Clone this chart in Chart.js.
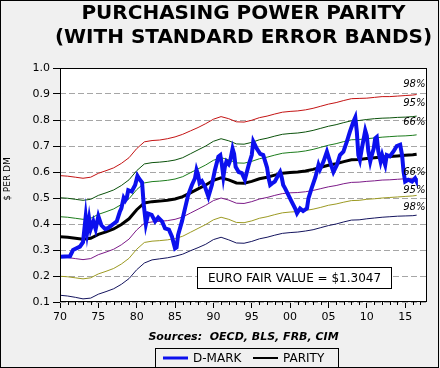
<!DOCTYPE html>
<html>
<head>
<meta charset="utf-8">
<script src="https://cdn.jsdelivr.net/npm/chart.js@4.4.1/dist/chart.umd.min.js"></script>
<style>
  html, body { margin: 0; padding: 0; background: #f0f0f0; }
  #wrap { width: 440px; height: 368px; position: relative; }
</style>
</head>
<body>
<div id="wrap"><canvas id="ppp"></canvas></div>
<script>
// annual readings, 1970 .. 2016 plus mid 2016
var bandYears = [1970, 1971, 1972, 1973, 1974, 1975, 1976, 1977, 1978, 1979,
  1980, 1981, 1982, 1983, 1984, 1985, 1986, 1987, 1988, 1989,
  1990, 1991, 1992, 1993, 1994, 1995, 1996, 1997, 1998, 1999,
  2000, 2001, 2002, 2003, 2004, 2005, 2006, 2007, 2008, 2009,
  2010, 2011, 2012, 2013, 2014, 2015, 2016, 2016.5];

var parity = [.351, .349, .345, .341, .345, .360, .370, .381, .398, .420,
  .455, .481, .486, .488, .491, .496, .505, .520, .535, .550,
  .568, .578, .570, .558, .557, .564, .574, .580, .588, .595,
  .598, .600, .604, .610, .618, .626, .632, .640, .647, .648,
  .652, .655, .658, .660, .662, .664, .666, .668];

var upper98 = [.586, .584, .580, .576, .580, .595, .605, .616, .633, .655,
  .690, .716, .721, .723, .728, .735, .745, .758, .771, .786,
  .803, .813, .805, .793, .792, .799, .809, .815, .823, .830,
  .833, .835, .839, .845, .853, .861, .867, .875, .882, .883,
  .884, .887, .890, .890, .892, .894, .896, .898];

var upper95 = [.501, .499, .495, .491, .495, .510, .520, .531, .548, .570,
  .605, .631, .636, .638, .641, .646, .655, .670, .685, .700,
  .718, .728, .720, .708, .707, .714, .724, .730, .738, .745,
  .748, .750, .754, .760, .768, .776, .782, .790, .797, .798,
  .802, .805, .807, .808, .810, .811, .813, .815];

var upper66 = [.428, .426, .422, .418, .422, .437, .447, .458, .475, .497,
  .532, .558, .563, .565, .568, .573, .582, .597, .612, .627,
  .645, .655, .647, .635, .634, .641, .651, .657, .665, .672,
  .675, .677, .681, .687, .695, .703, .709, .717, .724, .725,
  .728, .731, .734, .736, .738, .739, .741, .743];

var lower66 = [.273, .271, .267, .263, .267, .282, .292, .303, .320, .342,
  .377, .403, .408, .410, .413, .418, .427, .442, .457, .472,
  .490, .500, .492, .480, .479, .486, .496, .502, .510, .517,
  .520, .521, .524, .529, .536, .543, .548, .555, .560, .561,
  .564, .566, .569, .570, .572, .574, .576, .578];

var lower95 = [.199, .197, .193, .189, .193, .208, .218, .229, .246, .268,
  .303, .329, .334, .336, .339, .344, .353, .368, .383, .398,
  .416, .426, .418, .406, .405, .412, .422, .428, .436, .443,
  .446, .448, .452, .457, .464, .472, .477, .484, .490, .491,
  .495, .497, .500, .502, .504, .506, .508, .510];

var lower98 = [.126, .123, .118, .112, .115, .130, .140, .151, .168, .190,
  .224, .250, .262, .266, .270, .276, .284, .297, .309, .322,
  .340, .349, .339, .327, .326, .333, .343, .349, .357, .364,
  .367, .369, .373, .378, .386, .394, .400, .408, .415, .416,
  .420, .423, .426, .428, .430, .431, .432, .434];

// D-mark in $ per DM
var dmYears = [1970.0, 1971.3, 1971.7, 1972.6, 1973.0, 1973.35, 1973.55, 1973.8, 1974.0, 1974.35,
  1974.65, 1975.0, 1975.4, 1975.9, 1976.3, 1976.95, 1977.4, 1977.8, 1978.0, 1978.3,
  1978.5, 1978.7, 1978.9, 1979.35, 1979.8, 1980.1, 1980.3, 1980.7, 1980.9, 1981.2,
  1981.5, 1981.95, 1982.4, 1982.8, 1983.3, 1983.7, 1984.2, 1984.6, 1985.0, 1985.2,
  1985.4, 1985.9, 1986.3, 1986.7, 1987.2, 1987.6, 1987.8, 1988.0, 1988.2, 1988.5,
  1988.9, 1989.2, 1989.35, 1989.6, 1989.8, 1990.2, 1990.65, 1990.9, 1991.1, 1991.3,
  1991.5, 1991.7, 1992.0, 1992.2, 1992.5, 1992.7, 1992.9, 1993.3, 1993.7, 1994.1,
  1994.6, 1995.0, 1995.2, 1995.4, 1995.65, 1996.1, 1996.5, 1996.7, 1997.0, 1997.2,
  1997.4, 1997.65, 1998.0, 1998.5, 1998.7, 1998.9, 1999.1, 1999.35, 1999.8, 2000.2,
  2000.65, 2000.9, 2001.3, 2001.7, 2002.2, 2002.4, 2002.8, 2003.3, 2003.7, 2003.9,
  2004.35, 2004.8, 2005.2, 2005.65, 2006.1, 2006.5, 2006.95, 2007.4, 2007.8, 2008.25,
  2008.5, 2008.7, 2008.9, 2009.1, 2009.35, 2009.8, 2010.0, 2010.2, 2010.45, 2010.65,
  2010.9, 2011.1, 2011.3, 2011.5, 2011.8, 2012.0, 2012.2, 2012.4, 2012.6, 2013.0,
  2013.5, 2013.9, 2014.35, 2014.6, 2014.8, 2015.0, 2015.4, 2015.9, 2016.3, 2016.4];

var dmark = [.274, .276, .300, .313, .330, .428, .370, .420, .380, .410,
  .380, .430, .395, .380, .385, .400, .410, .447, .460, .500,
  .490, .500, .530, .525, .550, .585, .575, .560, .480, .400,
  .440, .435, .410, .425, .410, .383, .378, .351, .306, .310,
  .358, .410, .460, .510, .550, .576, .608, .590, .557, .565,
  .543, .518, .505, .530, .550, .608, .659, .665, .630, .582,
  .620, .640, .630, .645, .690, .670, .620, .600, .596, .570,
  .627, .665, .717, .705, .690, .670, .665, .646, .617, .576,
  .550, .556, .563, .590, .600, .580, .550, .537, .510, .486,
  .460, .441, .460, .450, .460, .499, .537, .580, .627, .610,
  .640, .678, .640, .600, .627, .665, .678, .717, .755, .793,
  .810, .755, .665, .646, .690, .760, .740, .680, .640, .665,
  .690, .730, .735, .680, .640, .665, .645, .627, .665, .660,
  .680, .700, .705, .665, .600, .563, .570, .563, .576, .570];

var labelYears = [1970, 1975, 1980, 1985, 1990, 1995, 2000, 2005, 2010, 2015];
var labelText = ['70', '75', '80', '85', '90', '95', '00', '05', '10', '15'];
var bandTags = ['98%', '95%', '66%', '66%', '95%', '98%'];
var fairValue = 1.3047;

function pts(xs, ys) {
  return xs.map(function (x, i) { return { x: x, y: ys[i] }; });
}

function band(label, values, color) {
  return {
    label: label,
    data: pts(bandYears, values),
    borderColor: color,
    borderWidth: 1,
    pointRadius: 0,
    tension: 0
  };
}

Chart.defaults.font.family = '"DejaVu Sans", sans-serif';
Chart.defaults.color = '#000';

var decor = {
  id: 'decor',
  beforeDraw: function (chart) {
    var ctx = chart.ctx, a = chart.chartArea;
    ctx.save();
    ctx.fillStyle = '#f0f0f0';
    ctx.fillRect(0, 0, chart.width, chart.height);
    ctx.fillStyle = '#ffffff';
    ctx.fillRect(a.left, a.top, a.right - a.left, a.bottom - a.top);
    ctx.restore();
  },
  afterDatasetsDraw: function (chart) {
    var ctx = chart.ctx, xs = chart.scales.x, ys = chart.scales.y;
    // fair value box
    var l = Math.round(xs.getPixelForValue(1987.8)) + 0.5;
    var r = Math.round(xs.getPixelForValue(2013.2)) + 0.5;
    var t = Math.round(ys.getPixelForValue(0.236)) + 0.5;
    var b = Math.round(ys.getPixelForValue(0.155)) + 0.5;
    ctx.save();
    ctx.fillStyle = '#fff';
    ctx.fillRect(l, t, r - l, b - t);
    ctx.strokeStyle = '#000';
    ctx.lineWidth = 1;
    ctx.strokeRect(l, t, r - l, b - t);
    ctx.font = '12px "DejaVu Sans"';
    ctx.fillStyle = '#000';
    ctx.textAlign = 'center';
    ctx.textBaseline = 'middle';
    ctx.fillText('EURO FAIR VALUE = $' + fairValue.toFixed(4), (l + r) / 2, (t + b) / 2 + 1);

    // band tags
    var tagY = [0.935, 0.862, 0.792, 0.600, 0.531, 0.462];
    ctx.font = 'italic 10px "DejaVu Sans"';
    bandTags.forEach(function (s, i) {
      ctx.fillText(s, xs.getPixelForValue(2016.2), ys.getPixelForValue(tagY[i]));
    });
    ctx.restore();
  },
  afterDraw: function (chart) {
    var ctx = chart.ctx, a = chart.chartArea, xs = chart.scales.x;
    ctx.save();
    ctx.strokeStyle = '#000';
    ctx.lineWidth = 1;
    // plot frame
    ctx.strokeRect(a.left + 0.5, a.top + 0.5, a.right - a.left - 1, a.bottom - a.top - 1);
    // minor year ticks
    ctx.beginPath();
    for (var yr = 1970; yr <= 2017; yr++) {
      if (yr % 5 === 0) continue;
      var px = Math.round(xs.getPixelForValue(yr)) + 0.5;
      ctx.moveTo(px, a.bottom);
      ctx.lineTo(px, a.bottom + 3);
    }
    ctx.stroke();
    // outer frame
    ctx.strokeRect(0.5, 0.5, 438, 367);

    // title
    var cx = (a.left + a.right) / 2;
    ctx.fillStyle = '#000';
    ctx.textAlign = 'center';
    ctx.textBaseline = 'alphabetic';
    ctx.font = 'bold 20px "DejaVu Sans"';
    ctx.fillText('PURCHASING POWER PARITY', cx, 19);
    ctx.fillText('(WITH STANDARD ERROR BANDS)', cx, 43);

    // sources
    ctx.font = 'bold italic 11px "DejaVu Sans"';
    ctx.fillText('Sources:  OECD, BLS, FRB, CIM', cx, 340);

    // y title
    ctx.save();
    ctx.translate(8, 179);
    ctx.rotate(-Math.PI / 2);
    ctx.font = '9px "DejaVu Sans"';
    ctx.textBaseline = 'middle';
    ctx.fillText('$ PER DM', 0, 0);
    ctx.restore();

    // legend
    ctx.fillStyle = '#f0f0f0';
    ctx.fillRect(155.5, 348.5, 183, 19);
    ctx.strokeRect(155.5, 348.5, 183, 19);
    var items = [chart.data.datasets[0], chart.data.datasets[1]];
    var lx = [163, 253];
    ctx.font = '12px "DejaVu Sans"';
    ctx.textAlign = 'left';
    ctx.textBaseline = 'middle';
    items.forEach(function (ds, i) {
      ctx.strokeStyle = ds.borderColor;
      ctx.lineWidth = i === 0 ? 3 : 2;
      ctx.beginPath();
      ctx.moveTo(lx[i], 358);
      ctx.lineTo(lx[i] + 25, 358);
      ctx.stroke();
      ctx.fillStyle = '#000';
      ctx.fillText(ds.label, lx[i] + 30, 358.5);
    });
    ctx.restore();
  }
};

new Chart(document.getElementById('ppp'), {
  type: 'line',
  data: {
    datasets: [
      { label: 'D-MARK', data: pts(dmYears, dmark), borderColor: '#0c10ee', borderWidth: 4, pointRadius: 0, tension: 0 },
      { label: 'PARITY', data: pts(bandYears, parity), borderColor: '#000000', borderWidth: 3, pointRadius: 0, tension: 0 },
      band('+98%', upper98, '#c41414'),
      band('+95%', upper95, '#0b520b'),
      band('+66%', upper66, '#1c7c1c'),
      band('-66%', lower66, '#7c1a88'),
      band('-95%', lower95, '#9c9a22'),
      band('-98%', lower98, '#14145e')
    ]
  },
  options: {
    responsive: true,
    maintainAspectRatio: false,
    animation: false,
    layout: { padding: { top: 68, right: 13, bottom: 0, left: 0 } },
    plugins: {
      legend: { display: false },
      tooltip: { enabled: false }
    },
    scales: {
      x: {
        type: 'linear',
        min: 1970,
        max: 2017.85,
        afterBuildTicks: function (scale) {
          var t = [];
          for (var yr = 1970; yr <= 2017; yr++) t.push({ value: yr });
          scale.ticks = t;
        },
        afterFit: function (scale) { scale.height = 66; },
        border: { display: false },
        grid: {
          drawOnChartArea: false,
          drawTicks: true,
          tickLength: 6,
          tickColor: function (c) { return c.tick && c.tick.value % 5 === 0 ? '#000' : 'rgba(0,0,0,0)'; }
        },
        ticks: {
          autoSkip: false,
          maxRotation: 0,
          minRotation: 0,
          padding: 3,
          font: { size: 11 },
          callback: function (v) {
            var i = labelYears.indexOf(v);
            return i >= 0 ? labelText[i] : '';
          }
        }
      },
      y: {
        min: 0.1,
        max: 1.0,
        afterFit: function (scale) { scale.width = 60; },
        border: { display: false, dash: [6, 3] },
        grid: {
          color: '#a6a6a6',
          tickColor: '#000',
          tickLength: 7,
          tickBorderDash: []
        },
        ticks: {
          stepSize: 0.1,
          padding: 3,
          font: { size: 11 },
          callback: function (v) { return v.toFixed(1); }
        }
      }
    }
  },
  plugins: [decor]
});
</script>
</body>
</html>
